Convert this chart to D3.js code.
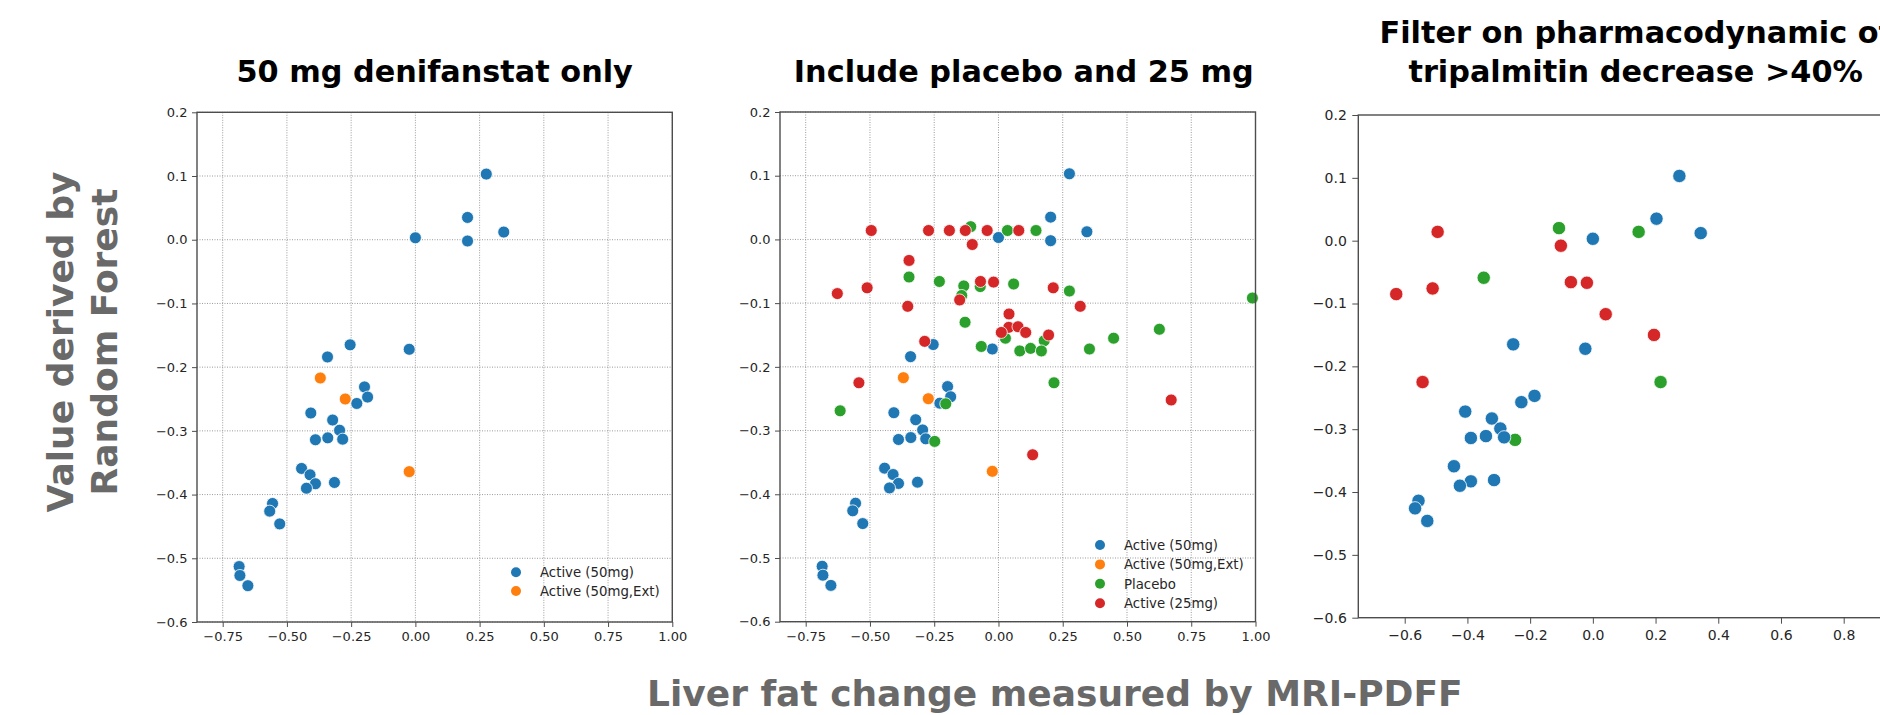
<!DOCTYPE html>
<html>
<head>
<meta charset="utf-8">
<script src="https://cdnjs.cloudflare.com/ajax/libs/d3/7.8.5/d3.min.js"></script>
<style>
body { margin: 0; background: #fff; }
svg { display: block; font-family: "DejaVu Sans", sans-serif; }
</style>
</head>
<body>
<svg id="fig" width="1880" height="715"></svg>
<script>
// values: [liver fat change, random forest value]
const active50 = [
  [0.276, 0.103], [0.203, 0.035], [0.203, -0.002], [0.344, 0.012], [0.000, 0.003],
  [-0.254, -0.165], [-0.342, -0.184], [-0.024, -0.172], [-0.198, -0.231], [-0.186, -0.247],
  [-0.228, -0.257], [-0.407, -0.272], [-0.322, -0.283], [-0.295, -0.299], [-0.389, -0.314],
  [-0.341, -0.311], [-0.283, -0.313], [-0.443, -0.359], [-0.410, -0.369], [-0.389, -0.383],
  [-0.424, -0.390], [-0.315, -0.381], [-0.556, -0.414], [-0.567, -0.426], [-0.528, -0.446],
  [-0.686, -0.513], [-0.683, -0.527], [-0.652, -0.543]
];
const active50ext = [[-0.370, -0.217], [-0.273, -0.250], [-0.024, -0.364]];
const placebo = [
  [-0.108, 0.020], [0.035, 0.014], [0.146, 0.014], [-0.348, -0.059], [-0.230, -0.066],
  [-0.135, -0.073], [-0.071, -0.074], [0.059, -0.070], [0.276, -0.081], [-0.143, -0.088],
  [0.988, -0.092], [-0.130, -0.130], [0.626, -0.141], [0.448, -0.155], [0.027, -0.155],
  [0.178, -0.159], [-0.067, -0.168], [0.083, -0.175], [0.125, -0.171], [0.167, -0.175],
  [0.354, -0.172], [0.216, -0.225], [-0.616, -0.269], [-0.248, -0.317], [-0.205, -0.258]
];
const active25 = [
  [-0.495, 0.014], [-0.272, 0.014], [-0.191, 0.014], [-0.129, 0.014], [-0.044, 0.014],
  [0.079, 0.014], [-0.102, -0.008], [-0.348, -0.033], [-0.070, -0.066], [-0.019, -0.067],
  [-0.627, -0.085], [-0.511, -0.076], [0.213, -0.076], [-0.353, -0.105], [0.318, -0.105],
  [-0.151, -0.095], [0.041, -0.117], [0.040, -0.138], [0.076, -0.137], [0.106, -0.146],
  [0.011, -0.146], [0.195, -0.150], [-0.287, -0.160], [-0.543, -0.225], [0.672, -0.252],
  [0.133, -0.338]
];

// third panel: subjects kept by the tripalmitin filter
const filtActive50 = [
  [0.276, 0.103], [0.203, 0.035], [0.344, 0.012], [0.000, 0.003], [-0.254, -0.165],
  [-0.024, -0.172], [-0.186, -0.247], [-0.228, -0.257], [-0.407, -0.272], [-0.322, -0.283],
  [-0.295, -0.299], [-0.389, -0.314], [-0.341, -0.311], [-0.283, -0.313], [-0.443, -0.359],
  [-0.389, -0.383], [-0.424, -0.390], [-0.315, -0.381], [-0.556, -0.414], [-0.567, -0.426],
  [-0.528, -0.446]
];
const filtPlacebo = [[-0.108, 0.020], [0.146, 0.014], [-0.348, -0.059], [0.216, -0.225], [-0.248, -0.317]];
const filtActive25 = [
  [-0.495, 0.014], [-0.102, -0.008], [-0.070, -0.066], [-0.019, -0.067], [-0.627, -0.085],
  [-0.511, -0.076], [0.041, -0.117], [0.195, -0.150], [-0.543, -0.225]
];

const seriesNames = ['Active (50mg)', 'Active (50mg,Ext)', 'Placebo', 'Active (25mg)'];
const seriesColors = ['#1f77b4', '#ff7f0e', '#2ca02c', '#d62728'];

const xTicksWide = [-0.75, -0.50, -0.25, 0.00, 0.25, 0.50, 0.75, 1.00];
const xTicksFilt = [-0.6, -0.4, -0.2, 0.0, 0.2, 0.4, 0.6, 0.8];
const yTicks = [-0.6, -0.5, -0.4, -0.3, -0.2, -0.1, 0.0, 0.1, 0.2];

const titles = [
  ['50 mg denifanstat only'],
  ['Include placebo and 25 mg'],
  ['Filter on pharmacodynamic of', 'tripalmitin decrease >40%']
];
const xLabel = 'Liver fat change measured by MRI-PDFF';
const yLabel = ['Value derived by', 'Random Forest'];

class ScatterPanel {
    constructor (config, series) {
        this.config = {
            parent: config.parent,
            left: config.left,
            top: config.top,
            width: config.width,
            height: config.height,
            xdomain: config.xdomain,
            ydomain: config.ydomain || [-0.6, 0.2],
            xticks: config.xticks,
            xformat: config.xformat || '.2f',
            grid: config.grid || false,
            title: config.title || [],
            titleY: config.titleY || [],
            titleDx: config.titleDx || 0,
            legend: config.legend || null,
            r: config.r || 6,
            fontSize: config.fontSize || 13,
            tickSize: config.tickSize || 5,
            tickPad: config.tickPad || 4.5
        };
        this.series = series;
        this.init();
    }

    init() {
        let self = this;
        let c = self.config;

        self.chart = c.parent.append('g')
            .attr('transform', `translate(${c.left}, ${c.top})`);

        self.xscale = d3.scaleLinear()
            .domain(c.xdomain)
            .range([0, c.width]);

        self.yscale = d3.scaleLinear()
            .domain(c.ydomain)
            .range([c.height, 0]);

        self.xaxis = d3.axisBottom(self.xscale)
            .tickValues(c.xticks)
            .tickFormat(d3.format(c.xformat))
            .tickSize(c.tickSize)
            .tickPadding(c.tickPad + 0.5);

        self.yaxis = d3.axisLeft(self.yscale)
            .tickValues(yTicks)
            .tickFormat(d3.format('.1f'))
            .tickSize(c.tickSize)
            .tickPadding(c.tickPad);

        self.render();
    }

    render() {
        let self = this;
        let c = self.config;

        // dotted grid
        if (c.grid) {
            self.chart.append('g')
                .selectAll('line')
                .data(c.xticks)
                .join('line')
                .attr('x1', d => self.xscale(d))
                .attr('x2', d => self.xscale(d))
                .attr('y1', 0)
                .attr('y2', c.height)
                .attr('stroke', '#9a9a9a')
                .attr('stroke-width', 1)
                .attr('stroke-dasharray', '1,1.5');

            self.chart.append('g')
                .selectAll('line')
                .data(yTicks)
                .join('line')
                .attr('x1', 0)
                .attr('x2', c.width)
                .attr('y1', d => self.yscale(d))
                .attr('y2', d => self.yscale(d))
                .attr('stroke', '#9a9a9a')
                .attr('stroke-width', 1)
                .attr('stroke-dasharray', '1,1.5');
        }

        self.series.forEach(s => {
            self.chart.append('g')
                .selectAll('circle')
                .data(s.data)
                .join('circle')
                .attr('cx', d => self.xscale(d[0]))
                .attr('cy', d => self.yscale(d[1]))
                .attr('r', c.r)
                .attr('fill', s.color)
                .attr('stroke', '#fff')
                .attr('stroke-width', 0.8);
        });

        // spines
        self.chart.append('rect')
            .attr('width', c.width)
            .attr('height', c.height)
            .attr('fill', 'none')
            .attr('stroke', '#4d4d4d')
            .attr('stroke-width', 1.4);

        let xg = self.chart.append('g')
            .attr('transform', `translate(0, ${c.height})`)
            .call(self.xaxis);
        let yg = self.chart.append('g')
            .call(self.yaxis);

        [xg, yg].forEach(g => {
            g.select('.domain').remove();
            g.selectAll('line').attr('stroke', '#4d4d4d').attr('stroke-width', 1);
            g.selectAll('text')
                .attr('fill', '#262626')
                .style('font-size', c.fontSize + 'px')
                .style('font-family', '"DejaVu Sans", sans-serif');
        });

        c.title.forEach((t, i) => {
            self.chart.append('text')
                .attr('x', c.width / 2 + c.titleDx)
                .attr('y', c.titleY[i])
                .attr('text-anchor', 'middle')
                .style('font-size', '30.3px')
                .style('font-weight', 'bold')
                .attr('fill', '#000')
                .text(t);
        });

        if (c.legend) {
            let lg = self.chart.append('g')
                .attr('transform', `translate(${c.legend.x}, ${c.legend.y})`);
            let items = lg.selectAll('g')
                .data(self.series)
                .join('g')
                .attr('transform', (d, i) => `translate(0, ${i * c.legend.step})`);
            items.append('circle')
                .attr('r', 5)
                .attr('fill', d => d.color);
            items.append('text')
                .attr('x', 24)
                .attr('dy', '0.36em')
                .attr('fill', '#262626')
                .style('font-size', '13.3px')
                .text(d => d.name);
        }
    }
}

const svg = d3.select('#fig');

const fullSeries = [
    {name: seriesNames[0], color: seriesColors[0], data: active50},
    {name: seriesNames[1], color: seriesColors[1], data: active50ext},
    {name: seriesNames[2], color: seriesColors[2], data: placebo},
    {name: seriesNames[3], color: seriesColors[3], data: active25}
];

new ScatterPanel({
    parent: svg, left: 197, top: 112.3, width: 475.3, height: 509.7,
    xdomain: [-0.85, 1.0], xticks: xTicksWide, grid: true,
    title: titles[0], titleY: [-30.6],
    legend: {x: 319, y: 460, step: 18.7}
}, fullSeries.slice(0, 2));

new ScatterPanel({
    parent: svg, left: 780, top: 112, width: 475.5, height: 509.7,
    xdomain: [-0.85, 1.0], xticks: xTicksWide, grid: true,
    title: titles[1], titleY: [-30.3], titleDx: 6,
    legend: {x: 320, y: 433, step: 19.4}
}, fullSeries);

new ScatterPanel({
    parent: svg, left: 1358.3, top: 115, width: 554.7, height: 502.7,
    xdomain: [-0.748, 1.021], xticks: xTicksFilt, xformat: '.1f',
    title: titles[2], titleY: [-71.7, -33.3],
    r: 6.7, fontSize: 14, tickSize: 6, tickPad: 5.5
}, [
    {name: seriesNames[2], color: seriesColors[2], data: filtPlacebo},
    {name: seriesNames[0], color: seriesColors[0], data: filtActive50},
    {name: seriesNames[3], color: seriesColors[3], data: filtActive25}
]);

// shared axis labels
svg.append('text')
    .attr('x', 647)
    .attr('y', 706)
    .attr('fill', '#696969')
    .style('font-size', '36px')
    .style('font-weight', 'bold')
    .text(xLabel);

svg.append('g')
    .attr('transform', 'translate(72.7, 342) rotate(-90)')
    .selectAll('text')
    .data(yLabel)
    .join('text')
    .attr('x', 0)
    .attr('y', (d, i) => i * 44.6)
    .attr('text-anchor', 'middle')
    .attr('fill', '#696969')
    .style('font-size', '36px')
    .style('font-weight', 'bold')
    .text(d => d);
</script>
</body>
</html>
